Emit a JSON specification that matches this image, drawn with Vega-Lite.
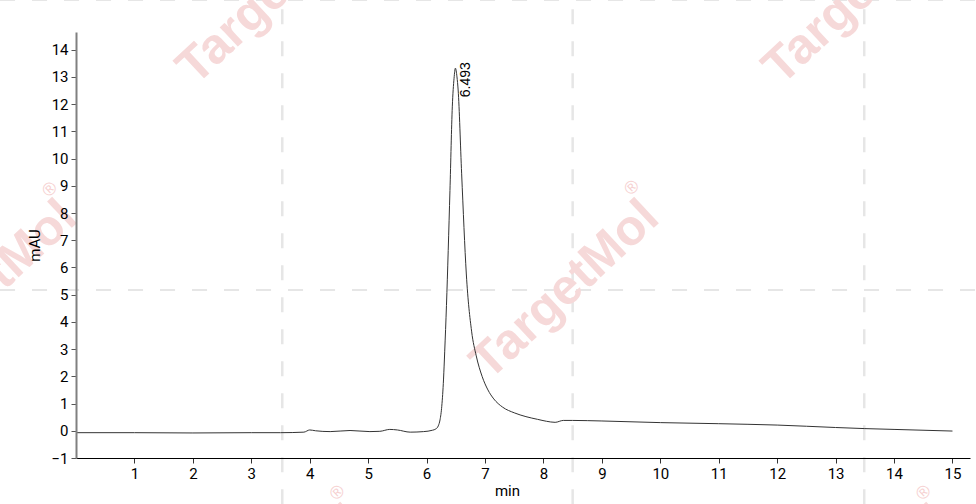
{
  "$schema": "https://vega.github.io/schema/vega-lite/v6.json",
  "autosize": "none",
  "width": 894,
  "height": 426,
  "padding": {"left": 76, "top": 32, "right": 6, "bottom": 46},
  "background": "white",
  "encoding": {
    "x": {
      "field": "t", "type": "quantitative", "title": "min",
      "scale": {"domain": [0, 15.3], "nice": false, "zero": false},
      "axis": {
        "values": [1, 2, 3, 4, 5, 6, 7, 8, 9, 10, 11, 12, 13, 14, 15],
        "grid": false, "zindex": 1, "domainColor": "#000000", "domainWidth": 1,
        "tickColor": "#333333", "tickSize": 5,
        "labelFont": "Roboto", "labelFontSize": 15, "labelColor": "#000000", "labelPadding": 3,
        "titleFont": "Roboto", "titleFontSize": 15, "titleFontWeight": "normal", "titleColor": "#000000",
        "titlePadding": 2, "titleX": 431
      }
    },
    "y": {
      "field": "v", "type": "quantitative", "title": "mAU",
      "scale": {"domain": [-1, 14.65], "nice": false, "zero": false},
      "axis": {
        "values": [-1, 0, 1, 2, 3, 4, 5, 6, 7, 8, 9, 10, 11, 12, 13, 14],
        "grid": false, "zindex": 1, "domainColor": "#808080", "domainWidth": 2,
        "tickColor": "#555555", "tickSize": 5,
        "labelFont": "Roboto", "labelFontSize": 15, "labelColor": "#000000", "labelPadding": 3,
        "titleFont": "Roboto", "titleFontSize": 15, "titleFontWeight": "normal", "titleColor": "#000000",
        "titlePadding": 8
      }
    }
  },
  "layer": [
    {
      "data": {"values": [
        {"t": 3.53, "v": -2.7, "v2": 15.9},
        {"t": 8.5, "v": -2.7, "v2": 15.9},
        {"t": 13.49, "v": -2.7, "v2": 15.9}
      ]},
      "mark": {"type": "rule", "color": "#e6e6e6", "strokeWidth": 2.5, "strokeDash": [15, 17]},
      "encoding": {"y2": {"field": "v2"}}
    },
    {
      "data": {"values": [
        {"t": -1.3, "t2": 15.4, "v": 5.17},
        {"t": -1.3, "t2": 15.4, "v": 15.83}
      ]},
      "mark": {"type": "rule", "color": "#e6e6e6", "strokeWidth": 2, "strokeDash": [15, 17]},
      "encoding": {"x2": {"field": "t2"}}
    },
    {
      "data": {"values": [
        {"t": 8.37, "v": 5.17, "label": "TargetMol"},
        {"t": -1.59, "v": 5.17, "label": "TargetMol"},
        {"t": 3.34, "v": 16.01, "label": "TargetMol"},
        {"t": 13.37, "v": 16.01, "label": "TargetMol"},
        {"t": 3.34, "v": -6.03, "label": "TargetMol"},
        {"t": 13.37, "v": -6.03, "label": "TargetMol"}
      ]},
      "mark": {"type": "text", "font": "Liberation Sans", "fontWeight": "bold", "fontSize": 50, "angle": 317, "color": "#f6d9d9", "align": "center", "baseline": "middle"},
      "encoding": {"text": {"field": "label"}}
    },
    {
      "data": {"values": [
        {"t": 9.52, "v": 8.92, "label": "®"},
        {"t": -0.44, "v": 8.85, "label": "®"},
        {"t": 4.48, "v": -2.29, "label": "®"},
        {"t": 14.51, "v": -2.29, "label": "®"}
      ]},
      "mark": {"type": "text", "font": "Liberation Sans", "fontSize": 18, "angle": 317, "color": "#f6d0d0", "align": "center", "baseline": "middle"},
      "encoding": {"text": {"field": "label"}}
    },
    {
      "data": {"values": [
        {"t": 0, "v": -0.07}, {"t": 1, "v": -0.07}, {"t": 2, "v": -0.08}, {"t": 3, "v": -0.07},
        {"t": 3.5, "v": -0.07}, {"t": 3.9, "v": -0.05}, {"t": 4.0, "v": 0.03}, {"t": 4.1, "v": 0.0},
        {"t": 4.35, "v": -0.03}, {"t": 4.69, "v": 0.01}, {"t": 5.03, "v": -0.03}, {"t": 5.2, "v": -0.02},
        {"t": 5.37, "v": 0.05}, {"t": 5.5, "v": 0.03}, {"t": 5.72, "v": -0.05}, {"t": 5.95, "v": -0.03},
        {"t": 6.1, "v": 0.02}, {"t": 6.16, "v": 0.07}, {"t": 6.2, "v": 0.18}, {"t": 6.23, "v": 0.4},
        {"t": 6.26, "v": 0.9}, {"t": 6.29, "v": 1.9}, {"t": 6.31, "v": 2.9}, {"t": 6.34, "v": 4.6},
        {"t": 6.4, "v": 8.83}, {"t": 6.44, "v": 11.9}, {"t": 6.47, "v": 12.95}, {"t": 6.493, "v": 13.32},
        {"t": 6.52, "v": 13.0}, {"t": 6.54, "v": 12.52}, {"t": 6.6, "v": 9.44}, {"t": 6.68, "v": 5.76},
        {"t": 6.77, "v": 3.66}, {"t": 6.85, "v": 2.75}, {"t": 6.95, "v": 2.0}, {"t": 7.05, "v": 1.5},
        {"t": 7.15, "v": 1.17}, {"t": 7.3, "v": 0.87}, {"t": 7.5, "v": 0.66}, {"t": 7.7, "v": 0.52},
        {"t": 7.9, "v": 0.42}, {"t": 8.05, "v": 0.35}, {"t": 8.2, "v": 0.31}, {"t": 8.34, "v": 0.38},
        {"t": 8.5, "v": 0.38}, {"t": 9, "v": 0.36}, {"t": 10, "v": 0.3}, {"t": 11, "v": 0.26},
        {"t": 12, "v": 0.21}, {"t": 13, "v": 0.12}, {"t": 13.5, "v": 0.08}, {"t": 14, "v": 0.05},
        {"t": 15, "v": -0.01}
      ]},
      "mark": {"type": "line", "color": "#333333", "strokeWidth": 1, "interpolate": "monotone"},
      "encoding": {"order": {"field": "t"}}
    },
    {
      "data": {"values": [{"t": 6.493, "v": 13.32, "label": "6.493"}]},
      "mark": {"type": "text", "font": "Liberation Sans", "fontSize": 14, "angle": 270, "align": "right", "baseline": "top", "dx": 6, "dy": 4, "color": "#000000"},
      "encoding": {"text": {"field": "label"}}
    }
  ],
  "config": {
    "view": {"stroke": null}
  }
}
